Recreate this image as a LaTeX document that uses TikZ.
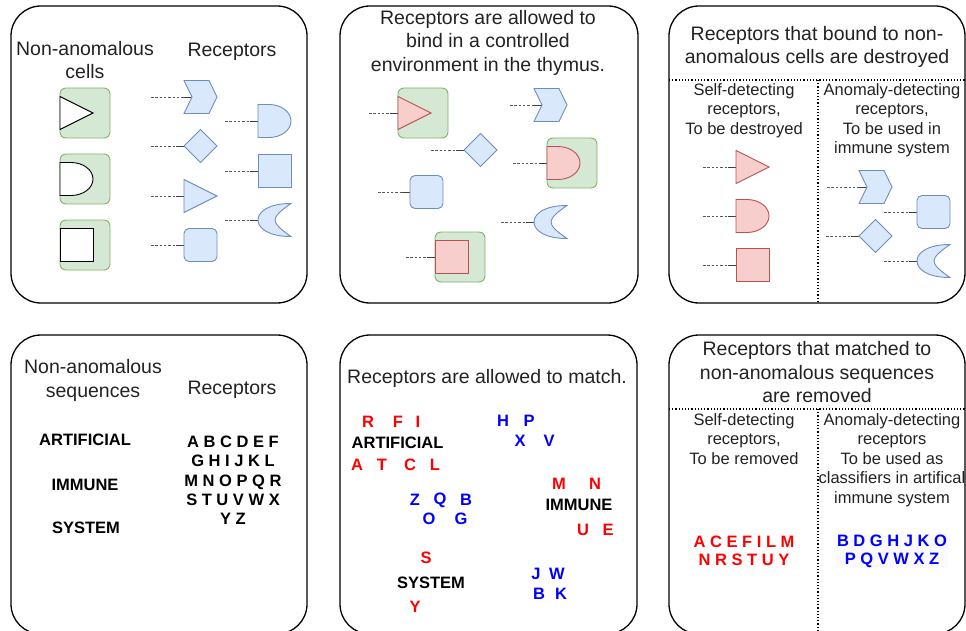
\documentclass[tikz,border=0pt]{standalone}
\usepackage{fontspec}
\setmainfont{Liberation Sans}

\definecolor{recfill}{HTML}{DAE8FC}
\definecolor{recdraw}{HTML}{6C8EBF}
\definecolor{selffill}{HTML}{F8CECC}
\definecolor{selfdraw}{HTML}{B85450}
\definecolor{cellfill}{HTML}{D5E8D4}
\definecolor{celldraw}{HTML}{82B366}
\definecolor{ink}{HTML}{222222}

\begin{document}
\begin{tikzpicture}[x=1pt, y=-1pt,
    panel/.style={draw=black, line width=1.3pt, rounded corners=30pt},
    split/.style={draw=black, dotted, line width=1.2pt},
    head/.style={font=\fontsize{19.5}{23.5}\selectfont, text=ink, align=center, inner sep=0pt},
    sub/.style={font=\fontsize{16.5}{19.5}\selectfont, text=ink, align=center, inner sep=0pt},
    word/.style={font=\fontsize{16.5}{19.3}\selectfont\bfseries, align=center, inner sep=0pt},
    selfch/.style={word, text=red},
    otherch/.style={word, text=blue},
    bluerec/.style={draw=recdraw, fill=recfill, line width=0.9pt},
    redrec/.style={draw=selfdraw, fill=selffill, line width=0.9pt},
    bare/.style={draw=black, fill=white, line width=0.9pt},
    stem/.style={draw=black!65, line width=0.8pt, dash pattern=on 2.5pt off 1.8pt},
    % receptor tail: dashed, with a short solid end
    pics/tail/.style={code={
        \draw[stem] (-#1,0) -- (-8,0);
        \draw[draw=black!75, line width=0.9pt] (-8,0) -- (0,0);}},
    pics/tail/.default=33,
    pics/cell/.style={code={
        \draw[draw=celldraw, fill=cellfill, line width=0.9pt, rounded corners=6pt]
            (0,-25) rectangle (50,25);}},
    pics/chevronrec/.style={code={
        \draw[pic actions] (0,-16.5) -- (25,-16.5) -- (33,0) -- (25,16.5)
            -- (0,16.5) -- (8,0) -- cycle;}},
    pics/diamondrec/.style={code={
        \draw[pic actions] (0,0) -- (16.5,-16.5) -- (33,0) -- (16.5,16.5) -- cycle;}},
    pics/conerec/.style={code={
        \draw[pic actions] (0,-16.5) -- (33,0) -- (0,16.5) -- cycle;}},
    pics/domerec/.style={code={
        \draw[pic actions] (0,-16.5) -- (11,-16.5)
            .. controls (23.2,-16.5) and (33,-9.1) .. (33,0)
            .. controls (33,9.1) and (23.2,16.5) .. (11,16.5) -- (0,16.5) -- cycle;}},
    pics/boxrec/.style={code={
        \draw[pic actions] (0,-16.5) rectangle (33,16.5);}},
    pics/roundrec/.style={code={
        \draw[pic actions, rounded corners=5pt] (0,-16.5) rectangle (33,16.5);}},
    pics/moonrec/.style={code={
        \draw[pic actions] (33,-16.5) .. controls (10,-16.5) and (0,-8) .. (0,0)
            .. controls (0,8) and (10,16.5) .. (33,16.5)
            .. controls (22,9) and (17,4) .. (17,0)
            .. controls (17,-4) and (22,-9) .. (33,-16.5) -- cycle;}}
]
    \useasboundingbox (0,0) rectangle (966,631);

    % frames
    \draw[panel] (11,6) rectangle (307,303);
    \draw[panel] (340,6) rectangle (638,303);
    \draw[panel] (669,6) rectangle (965,303);
    \draw[panel] (11,335) rectangle (307,634);
    \draw[panel] (340,335) rectangle (637,634);
    \draw[panel] (669,335) rectangle (965,634);
    \draw[split] (669,80) -- (965,80);
    \draw[split] (818,80) -- (818,303);
    \draw[split] (669,409) -- (965,409);
    \draw[split] (818,409) -- (818,634);

    % --- cells and receptors ---
    \node[head] (cellsT) at (85,60) {Non-anomalous\\cells};
    \node[head] (recT) at (232,52) {Receptors};
    \pic at (60,113) {cell};
    \pic[bare] at (60,113) {conerec};
    \pic at (60,179) {cell};
    \pic[bare] at (60,179) {domerec};
    \pic at (60,245) {cell};
    \pic[bare] at (60,245) {boxrec};

    \pic at (192,97) {tail=41};
    \pic[bluerec] at (184,97) {chevronrec};
    \pic at (184,146) {tail};
    \pic[bluerec] at (184,146) {diamondrec};
    \pic at (184,196) {tail};
    \pic[bluerec] at (184,196) {conerec};
    \pic at (184,245) {tail};
    \pic[bluerec] at (184,245) {roundrec};
    \pic at (258,121) {tail};
    \pic[bluerec] at (258,121) {domerec};
    \pic at (258,171) {tail};
    \pic[bluerec] at (258,171) {boxrec};
    \pic at (258,220) {tail};
    \pic[bluerec] at (258,220) {moonrec};

    % --- binding in the thymus ---
    \node[head] (thymusT) at (488,42.5)
        {Receptors are allowed to\\bind in a controlled\\environment in the thymus.};
    \pic at (398,113) {cell};
    \pic at (398,113) {tail=29};
    \pic[redrec] at (398,113) {conerec};
    \pic at (542,105) {tail=32};
    \pic[bluerec] at (534,105) {chevronrec};
    \pic at (464,150) {tail};
    \pic[bluerec] at (464,150) {diamondrec};
    \pic at (547,163) {cell};
    \pic at (547,163) {tail=34};
    \pic[redrec] at (547,163) {domerec};
    \pic at (410,192) {tail=32};
    \pic[bluerec] at (410,192) {roundrec};
    \pic at (534,222) {tail};
    \pic[bluerec] at (534,222) {moonrec};
    \pic at (435,257) {cell};
    \pic at (435,257) {tail=29};
    \pic[redrec] at (435,257) {boxrec};

    % --- negative selection ---
    \node[head] (destroyT) at (817,47)
        {Receptors that bound to non-\\anomalous cells are destroyed};
    \node[sub] (selfT) at (744,110.5)
        {Self-detecting\\receptors,\\To be destroyed};
    \node[sub] (anomT) at (892,120)
        {Anomaly-detecting\\receptors,\\To be used in\\immune system};
    \pic at (736,167) {tail};
    \pic[redrec] at (736,167) {conerec};
    \pic at (736,216) {tail};
    \pic[redrec] at (736,216) {domerec};
    \pic at (736,265) {tail};
    \pic[redrec] at (736,265) {boxrec};
    \pic at (867,187) {tail=40};
    \pic[bluerec] at (859,187) {chevronrec};
    \pic at (917,212) {tail};
    \pic[bluerec] at (917,212) {roundrec};
    \pic at (859,236) {tail};
    \pic[bluerec] at (859,236) {diamondrec};
    \pic at (917,261) {tail};
    \pic[bluerec] at (917,261) {moonrec};

    % --- sequences and letter receptors ---
    \node[head] (seqT) at (93,380.5) {Non-anomalous\\sequences};
    \node[head] (alphaT) at (232,390) {Receptors};
    \node[word] (art) at (85,440) {ARTIFICIAL};
    \node[word] (imm) at (85,485) {IMMUNE};
    \node[word] (sys) at (86,528) {SYSTEM};
    \node[word] (alpha) at (233,480.5)
        {A B C D E F\\G H I J K L\\M N O P Q R\\S T U V W X\\Y Z};

    % --- matching ---
    \node[head] (matchT) at (487,378) {Receptors are allowed to match.};
    \node[word] (art2) at (397.5,443) {ARTIFICIAL};
    \node[word] (imm2) at (579,505) {IMMUNE};
    \node[word] (sys2) at (431,583) {SYSTEM};
    \foreach \l/\x/\y [count=\i] in {R/368/422, F/398/422, I/418/422,
        A/357/465, T/382/465, C/410/465, L/435/465, M/559/484, N/595/484,
        U/583/530, E/608/530, S/426/558, Y/415/607}
        \node[selfch] (hit\i) at (\x,\y) {\l};
    \foreach \l/\x/\y [count=\i] in {H/503/421, P/529/421, X/520/441,
        V/549/441, Z/415/500, Q/440/500, B/466/500, O/429/519, G/461/519,
        J/536/574, W/557/574, B/539/594, K/561/594}
        \node[otherch] (miss\i) at (\x,\y) {\l};

    % --- removal ---
    \node[head] (removeT) at (817,372.5)
        {Receptors that matched to\\non-anomalous sequences\\are removed};
    \node[sub] (self2T) at (744,439)
        {Self-detecting\\receptors,\\To be removed};
    \node[sub] (anom2T) at (892,460)
        {Anomaly-detecting\\receptors\\To be used as\\classifiers in artifical\\immune system};
    \node[selfch, font=\fontsize{16.5}{18}\selectfont\bfseries] (selfset) at (744,551)
        {A C E F I L M\\N R S T U Y};
    \node[otherch, font=\fontsize{16.5}{18}\selectfont\bfseries, fill=blue!2, inner sep=1pt]
        (anomset) at (892,551) {B D G H J K O\\P Q V W X Z};
\end{tikzpicture}
\end{document}
